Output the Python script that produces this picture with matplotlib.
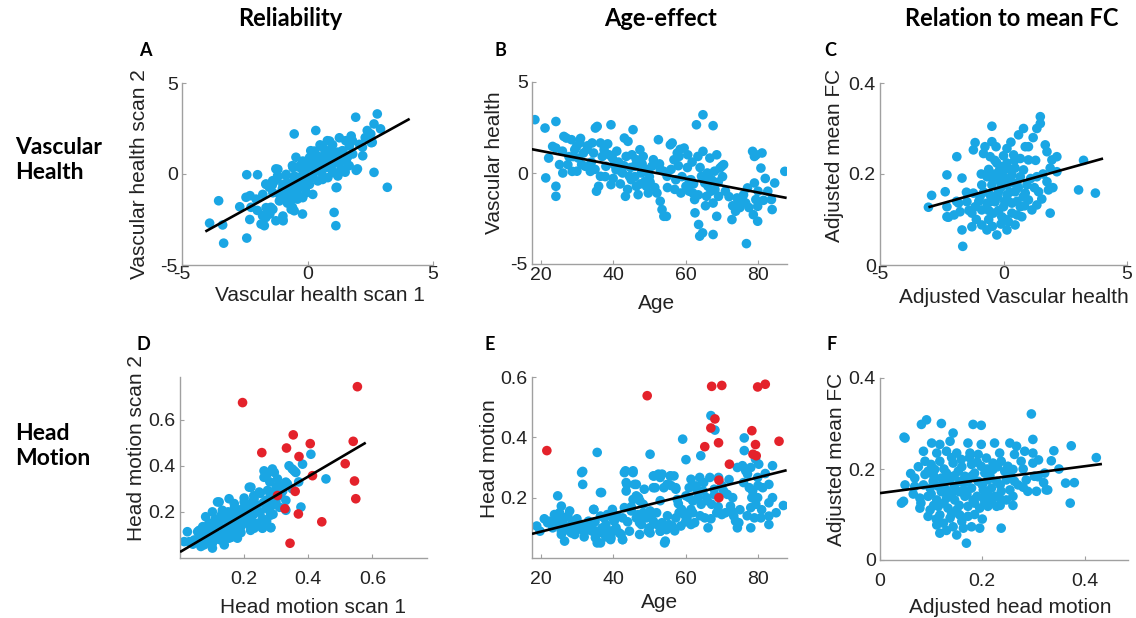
import numpy as np
import matplotlib
matplotlib.use("Agg")
import matplotlib.pyplot as plt

plt.rcParams["font.family"] = ["Liberation Sans", "DejaVu Sans"]

BLUE = "#1aa6e4"
RED = "#e4222b"

# ---- A: vascular health, scan 1 vs scan 2
a_pts = np.array([
    (-3.9, -2.7), (-3.54, -1.47), (-3.38, -2.8), (-3.34, -3.8), (-2.42, -3.52), (-2.42, -0.04),
    (-1.99, -0.04), (-2.45, -1.28), (-2.29, -1.19), (-2.25, -1.83), (-2.05, -1.38), (-1.85, -2.75),
    (-1.72, -2.84), (-1.79, -2.29), (-1.66, -2.39), (-1.46, -1.83), (-0.99, -2.48), (-0.97, -2.57),
    (-1.26, -2.57), (-1.66, -0.55), (-1.52, -0.73), (-1.39, -0.37), (-1.26, 0.28), (-1.19, -0.09),
    (-0.86, -0.09), (-0.79, -0.55), (-1.13, -1.1), (-0.66, -1.28), (-0.6, -1.83), (-0.53, -2.02),
    (-0.4, -1.38), (-0.2, -2.2), (-0.53, 2.2), (-0.6, 0.46), (-0.46, 0.92), (-0.33, 0.37),
    (-0.2, -0.37), (-0.07, -0.73), (0.0, 0.73), (0.13, 1.28), (0.2, 1.0), (0.33, 2.39),
    (0.33, 0.55), (0.46, 0.83), (0.6, 0.37), (0.73, 1.28), (0.79, 1.83), (0.86, 0.73),
    (0.99, 0.18), (1.06, -2.11), (1.13, -2.84), (1.17, -0.73), (1.26, 0.09), (1.39, 1.28),
    (1.52, 1.83), (1.59, 0.92), (1.66, 0.46), (1.79, 1.83), (1.92, 3.12), (1.99, 0.28),
    (2.19, 1.47), (2.38, 2.39), (2.52, 2.2), (2.58, 1.74), (2.65, 0.09), (2.78, 3.3),
    (2.91, 2.48), (3.18, -0.73), (2.65, 2.75),
    (0.88, 1.81), (1.27, 1.99), (1.74, 2.09), (2.47, 2.18), (0.28, 1.26), (0.61, 1.45),
    (0.94, 1.36), (1.41, 1.26), (1.67, 1.54), (2.07, 1.63), (2.54, 1.72), (-0.19, 0.71),
    (0.08, 0.9), (0.41, 0.99), (0.74, 0.81), (1.14, 0.9), (1.54, 0.71), (-0.58, 0.35),
    (-0.32, 0.44), (0.01, 0.35), (0.35, 0.53), (0.74, 0.35), (1.01, 0.07), (1.34, 0.26),
    (1.61, 0.44), (1.94, 0.2), (-1.18, 0.26), (-0.85, -0.02), (-0.52, -0.11), (-0.19, -0.02),
    (0.21, -0.11), (0.55, 0.07), (0.81, -0.2), (1.21, -0.11), (-1.65, -0.57), (-1.31, -0.38),
    (-0.98, -0.57), (-0.65, -0.48), (-0.32, -0.66), (0.08, -0.57), (0.41, -0.38), (1.14, -0.75),
    (-1.78, -1.12), (-1.38, -1.03), (-1.05, -1.21), (-0.72, -0.93), (-0.39, -0.84), (-0.05, -1.03),
    (0.21, -1.12), (-1.12, -1.48), (-0.59, -1.39), (-0.19, -1.3), (-1.65, -1.85), (-1.38, -1.94),
    (-0.65, -1.94), (-0.98, -2.31),
    (-1.0, -0.8), (-0.8, -1.0), (-0.5, -0.6), (-0.3, -0.2), (-0.1, 0.2), (0.1, 0.5),
    (0.3, 0.2), (0.5, 0.6), (0.7, 1.1), (0.9, 1.0), (1.1, 0.6), (1.3, 0.7),
    (0.2, 1.1), (-0.1, 0.5), (0.5, 1.6), (1.0, 1.6), (1.2, 1.2), (0.6, -0.3),
    (0.9, 0.4), (-1.4, -0.6), (-1.2, -0.2), (-0.9, -1.3), (-0.4, -1.1), (-0.1, -0.4),
    (0.35, 0.2), (1.8, 1.1), (2.2, 1.0), (2.3, 2.0), (1.5, 0.1), (0.05, -0.25),
    (-2.3, -2.5), (-2.0, -2.0), (-2.7, -1.8), (-1.5, -2.2), (-0.8, -1.6),
])
a_fit = ([-4.07, 4.07], [-3.16, 3.03])

# ---- B: vascular health vs age
b_pts = np.array([
    (18.4, 2.93), (21.2, 2.47), (21.4, -0.27), (22.2, 0.82), (24.2, 2.83), (24.2, -0.73),
    (24.2, -1.28), (23.3, 1.46), (24.2, 1.37), (25.2, 0.46), (26.1, 0.0), (26.4, 2.01),
    (27.1, 1.92), (27.5, 0.46), (28.5, 1.83), (28.7, 0.09), (29.4, 1.28), (29.9, 1.46),
    (30.4, 0.82), (30.8, 1.65), (31.3, 0.46), (31.8, 1.1), (32.3, 0.37), (33.2, 0.37),
    (33.7, 0.09), (34.2, 1.65), (34.6, 1.1), (35.1, 2.47), (35.6, 2.56), (35.4, -1.0),
    (36.0, -0.73), (36.5, 1.65), (36.5, -0.18), (37.0, 0.91), (37.5, 1.28), (38.0, 0.37),
    (38.9, 1.0), (39.4, 2.65), (39.4, -0.64), (39.8, 0.82), (40.3, 0.46), (40.8, 0.18),
    (42.2, 0.09), (42.6, 0.0), (43.1, 1.92), (43.4, -1.28), (43.6, 0.91), (44.1, 1.74),
    (44.5, -0.18), (45.0, -0.37), (45.5, 2.38), (45.9, 0.37), (46.4, 0.73), (46.4, -0.73),
    (46.9, -1.19), (47.4, 1.28), (47.8, 0.0), (48.3, 0.91), (48.8, -0.46), (49.2, -0.73),
    (49.7, -1.1), (50.7, 0.37), (51.1, 0.73), (52.1, -1.1), (52.5, 1.83), (53.0, -1.55),
    (53.5, -2.01), (54.0, -2.38), (54.7, -2.38), (54.0, 0.09), (54.9, -0.18), (55.8, 1.55),
    (56.3, 1.65), (56.8, 0.73), (57.3, -0.37), (57.7, 1.1), (58.2, 0.91), (58.7, -1.1),
    (59.6, 1.37), (60.1, -0.73), (60.6, 1.0), (61.0, -1.0), (61.5, -0.37), (62.0, -1.1),
    (62.5, -1.46), (62.6, -2.19), (63.0, 2.65), (63.4, 0.91), (63.6, -2.83), (63.9, -3.47),
    (64.4, -0.18), (64.7, -3.29), (64.8, 3.2), (64.8, 1.19), (65.3, -0.55), (65.8, -1.28),
    (66.2, -0.73), (66.7, 0.82), (67.2, -0.37), (67.6, -3.38), (67.6, 2.6), (67.6, -1.65),
    (68.1, -0.91), (68.6, 1.0), (68.6, -2.38), (69.1, -1.28), (69.5, 0.27), (70.0, 0.37),
    (70.5, 0.46), (72.8, -2.56), (73.8, -2.1), (74.2, -1.37), (74.7, -1.65), (75.7, -1.46),
    (76.6, -1.65), (76.8, -3.88), (77.1, -0.82), (78.5, 1.19), (78.7, -2.29), (79.0, 0.91),
    (79.0, -0.55), (79.4, -1.46), (79.9, -2.65), (79.9, -1.83), (80.8, 0.27), (81.1, 1.1),
    (82.7, -1.0), (83.7, -1.46), (83.9, -2.01), (84.6, -0.55), (87.4, 0.09),
    (29.0, 0.9), (32.8, 1.3), (41.5, 0.6), (44.8, 0.3), (47.0, 0.5), (50.0, -0.2),
    (53.0, 0.2), (58.0, 0.4), (61.0, -0.4), (66.0, -0.1), (71.0, -1.0), (75.0, -1.9),
    (26.0, 1.2), (27.8, 0.9), (30.0, 0.1), (31.0, 1.9), (33.0, 1.5), (34.0, 0.6),
    (35.0, 0.2), (37.8, -0.2), (38.5, 1.6), (40.0, -0.3), (41.0, 1.2), (42.0, -0.6),
    (43.0, 0.4), (44.0, -0.9), (45.2, 1.0), (46.0, -0.2), (47.5, -0.6), (48.0, 0.5),
    (49.0, 0.2), (50.2, -0.5), (51.5, -0.8), (52.8, 0.5), (55.0, -0.8), (56.0, 0.2),
    (57.0, -0.9), (58.5, 1.3), (59.0, -0.2), (60.5, 0.3), (61.8, 0.6), (62.2, -0.6),
    (63.5, -1.2), (64.0, 0.3), (65.5, -1.8), (66.0, 0.0), (67.0, -1.0), (68.0, 0.1),
    (69.0, -0.5), (70.2, -0.2), (72.0, -1.3), (73.0, -1.8), (76.0, -1.2), (77.5, -1.9),
    (79.5, 1.0), (80.0, -1.0), (81.5, -1.5), (82.0, -0.3),
])
b_fit = ([17.2, 87.9], [1.32, -1.37])

# ---- C: adjusted mean FC vs adjusted vascular health
c_pts = np.array([
    (1.49, 0.326), (1.49, 0.311), (-0.47, 0.305), (0.81, 0.3), (0.61, 0.286), (1.35, 0.3),
    (-1.15, 0.269), (-0.47, 0.271), (0.88, 0.26), (1.01, 0.26), (1.69, 0.264), (-1.22, 0.253),
    (-0.81, 0.245), (-0.54, 0.238), (0.14, 0.256), (0.41, 0.242), (0.68, 0.234), (1.01, 0.231),
    (1.76, 0.249), (1.96, 0.231), (2.16, 0.238), (-1.89, 0.238), (-0.27, 0.224), (-0.07, 0.216),
    (0.14, 0.224), (0.47, 0.213), (0.81, 0.209), (1.89, 0.213), (2.16, 0.205), (-2.29, 0.198),
    (-1.68, 0.191), (-0.67, 0.194), (-0.2, 0.198), (0.0, 0.194), (0.34, 0.198), (0.68, 0.194),
    (1.35, 0.194), (1.76, 0.183), (-0.88, 0.176), (-0.47, 0.176), (-0.13, 0.183), (0.14, 0.176),
    (0.54, 0.18), (0.95, 0.176), (-2.36, 0.161), (-1.22, 0.158), (-0.95, 0.15), (-0.54, 0.154),
    (-0.2, 0.161), (0.14, 0.154), (0.47, 0.161), (0.88, 0.158), (1.42, 0.161), (1.82, 0.165),
    (3.04, 0.165), (-2.29, 0.128), (-1.82, 0.136), (-1.48, 0.139), (-1.15, 0.128), (-0.67, 0.136),
    (-0.34, 0.139), (0.0, 0.128), (0.34, 0.136), (0.68, 0.128), (1.01, 0.143), (1.35, 0.132),
    (-2.29, 0.106), (-1.76, 0.117), (-1.28, 0.114), (-0.88, 0.121), (-0.41, 0.114), (-0.07, 0.106),
    (0.34, 0.114), (0.74, 0.106), (1.15, 0.121), (1.89, 0.114), (-1.68, 0.077), (-1.28, 0.084),
    (-0.88, 0.088), (-0.67, 0.077), (-0.27, 0.066), (0.14, 0.077), (0.47, 0.088), (0.2, 0.095),
    (-2.91, 0.153), (-3.04, 0.127), (-2.23, 0.105), (-1.65, 0.041), (3.24, 0.23), (3.72, 0.158),
    (-0.2, 0.201), (-0.1, 0.17), (0.3, 0.21), (-0.35, 0.2), (0.2, 0.14), (-0.6, 0.12),
    (-0.9, 0.2), (-0.6, 0.21), (-0.35, 0.23), (-0.15, 0.21), (0.05, 0.21), (0.25, 0.19),
    (0.45, 0.23), (0.6, 0.17), (0.8, 0.15), (1.1, 0.19), (1.25, 0.17), (-1.0, 0.14),
    (-0.8, 0.16), (-0.5, 0.14), (-0.25, 0.15), (0.05, 0.14), (0.25, 0.16), (0.55, 0.14),
    (0.85, 0.13), (-1.4, 0.12), (-1.1, 0.1), (-0.6, 0.1), (-0.2, 0.12), (0.1, 0.1),
    (0.55, 0.11), (-0.1, 0.09), (-0.45, 0.085), (-1.5, 0.16), (-1.9, 0.14), (-2.0, 0.11),
    (1.3, 0.23), (1.6, 0.2), (1.55, 0.145), (2.0, 0.17), (-0.3, 0.26), (0.3, 0.27),
    (0.0, 0.24), (-0.75, 0.26), (1.2, 0.28), (-0.05, 0.185), (0.4, 0.18), (-0.45, 0.19),
])
c_fit = ([-3.04, 4.03], [0.127, 0.234])

# ---- D: head motion, scan 1 vs scan 2 (red = flagged)
d_blue = np.array([
    (0.262, 0.378), (0.294, 0.371), (0.356, 0.378), (0.262, 0.35), (0.304, 0.343), (0.335, 0.321),
    (0.221, 0.307), (0.273, 0.293), (0.309, 0.307), (0.153, 0.257), (0.122, 0.243), (0.169, 0.236),
    (0.2, 0.243), (0.231, 0.257), (0.268, 0.25), (0.299, 0.243), (0.08, 0.179), (0.101, 0.2),
    (0.132, 0.207), (0.163, 0.2), (0.195, 0.214), (0.221, 0.207), (0.247, 0.2), (0.278, 0.207),
    (0.055, 0.114), (0.071, 0.136), (0.096, 0.15), (0.122, 0.157), (0.143, 0.171), (0.169, 0.164),
    (0.2, 0.171), (0.226, 0.157), (0.257, 0.171), (0.283, 0.186), (0.059, 0.078), (0.085, 0.093),
    (0.111, 0.107), (0.138, 0.121), (0.163, 0.129), (0.19, 0.136), (0.216, 0.143), (0.231, 0.129),
    (0.257, 0.131), (0.283, 0.131), (0.075, 0.057), (0.101, 0.064), (0.127, 0.078), (0.153, 0.086),
    (0.179, 0.086), (0.101, 0.043), (0.065, 0.05), (0.044, 0.078), (0.138, 0.057), (0.33, 0.207),
    (0.377, 0.221), (0.455, 0.343), (0.408, 0.45), (0.382, 0.407), (0.34, 0.4), (0.35, 0.386),
    (0.361, 0.371), (0.288, 0.386), (0.283, 0.133), (0.257, 0.129), (0.216, 0.307), (0.117, 0.243),
    (0.023, 0.114), (0.029, 0.071), (0.013, 0.071), (0.321, 0.314), (0.33, 0.329), (0.314, 0.271),
    (0.278, 0.257), (0.288, 0.286), (0.247, 0.286), (0.226, 0.243), (0.06, 0.1), (0.09, 0.12),
    (0.15, 0.15), (0.18, 0.19), (0.21, 0.18), (0.12, 0.09), (0.04, 0.06), (0.17, 0.11),
    (0.07, 0.09), (0.09, 0.07), (0.11, 0.08), (0.13, 0.1), (0.15, 0.11), (0.17, 0.13),
    (0.19, 0.15), (0.21, 0.16), (0.23, 0.19), (0.25, 0.2), (0.27, 0.22), (0.29, 0.23),
    (0.12, 0.14), (0.14, 0.13), (0.16, 0.17), (0.18, 0.18), (0.2, 0.2), (0.22, 0.22),
    (0.24, 0.23), (0.26, 0.24), (0.08, 0.11), (0.1, 0.13), (0.06, 0.12), (0.16, 0.09),
    (0.19, 0.11), (0.22, 0.12), (0.24, 0.15), (0.27, 0.16), (0.29, 0.19), (0.31, 0.22),
    (0.33, 0.25), (0.35, 0.3), (0.37, 0.33), (0.32, 0.29), (0.3, 0.31), (0.23, 0.27),
    (0.17, 0.22), (0.13, 0.19), (0.11, 0.17), (0.15, 0.2), (0.09, 0.15), (0.2, 0.26),
    (0.25, 0.28), (0.28, 0.33), (0.27, 0.36),
])
d_red = np.array([
    (0.195, 0.674), (0.255, 0.457), (0.332, 0.477), (0.353, 0.534), (0.371, 0.44), (0.359, 0.289),
    (0.327, 0.214), (0.369, 0.191), (0.343, 0.064), (0.406, 0.496), (0.413, 0.357), (0.442, 0.157),
    (0.515, 0.409), (0.54, 0.506), (0.553, 0.743), (0.544, 0.334), (0.548, 0.257), (0.304, 0.271),
])
d_fit = ([0.0, 0.579], [0.026, 0.5])

# ---- E: head motion vs age (red = flagged)
e_blue = np.array([
    (18.9, 0.106), (19.8, 0.089), (24.7, 0.206), (21.9, 0.117), (23.3, 0.1), (24.2, 0.133),
    (25.2, 0.15), (25.7, 0.078), (26.1, 0.117), (26.6, 0.056), (27.5, 0.139), (28.0, 0.089),
    (28.5, 0.111), (29.4, 0.078), (30.4, 0.1), (31.3, 0.111), (31.6, 0.287), (31.6, 0.244),
    (32.3, 0.089), (33.2, 0.122), (34.2, 0.1), (34.6, 0.161), (35.1, 0.067), (35.6, 0.35),
    (36.0, 0.089), (36.5, 0.05), (36.8, 0.217), (37.5, 0.133), (38.0, 0.111), (38.9, 0.089),
    (39.4, 0.067), (39.8, 0.133), (40.8, 0.1), (41.7, 0.083), (42.6, 0.061), (43.1, 0.167),
    (43.4, 0.289), (43.8, 0.244), (44.5, 0.089), (45.5, 0.289), (45.9, 0.244), (46.4, 0.206),
    (46.9, 0.144), (47.4, 0.189), (47.8, 0.111), (48.3, 0.178), (48.6, 0.228), (49.2, 0.133),
    (49.7, 0.089), (50.2, 0.344), (50.7, 0.15), (51.1, 0.233), (51.3, 0.272), (52.1, 0.111),
    (52.5, 0.278), (53.0, 0.089), (53.5, 0.278), (54.0, 0.233), (54.2, 0.05), (54.7, 0.094),
    (54.9, 0.244), (55.4, 0.111), (55.8, 0.272), (56.3, 0.106), (56.8, 0.272), (57.3, 0.233),
    (57.7, 0.194), (58.2, 0.15), (58.7, 0.106), (59.2, 0.394), (58.9, 0.161), (59.6, 0.15),
    (60.1, 0.326), (60.4, 0.133), (61.0, 0.233), (61.5, 0.111), (62.0, 0.189), (62.5, 0.117),
    (62.9, 0.239), (63.4, 0.2), (63.9, 0.267), (64.2, 0.339), (64.3, 0.178), (64.8, 0.222),
    (65.3, 0.133), (65.8, 0.2), (66.2, 0.1), (66.7, 0.267), (67.0, 0.472), (68.1, 0.424),
    (67.2, 0.178), (67.9, 0.228), (68.6, 0.15), (69.1, 0.267), (70.0, 0.144), (70.5, 0.222),
    (71.5, 0.211), (72.4, 0.172), (72.8, 0.155), (73.3, 0.139), (73.8, 0.122), (74.3, 0.1),
    (74.7, 0.117), (74.3, 0.3), (75.7, 0.306), (76.2, 0.398), (76.2, 0.356), (76.6, 0.289),
    (77.1, 0.278), (77.6, 0.233), (78.0, 0.1), (78.0, 0.167), (78.3, 0.2), (78.5, 0.222),
    (79.0, 0.133), (79.3, 0.328), (79.4, 0.178), (79.9, 0.267), (79.9, 0.2), (80.2, 0.311),
    (80.8, 0.133), (81.3, 0.233), (83.0, 0.183), (83.0, 0.139), (83.0, 0.111), (83.0, 0.244),
    (84.0, 0.306), (87.0, 0.174),
    (31.3, 0.283), (36.5, 0.217), (43.1, 0.283), (45.5, 0.283), (43.6, 0.25), (46.4, 0.244),
    (43.6, 0.222), (51.1, 0.272), (53.0, 0.267), (55.8, 0.272), (51.6, 0.233), (57.3, 0.228),
    (61.5, 0.261), (60.1, 0.206), (45.5, 0.194), (25.7, 0.172), (28.0, 0.156), (22.4, 0.122),
    (23.8, 0.144), (26.6, 0.133), (29.0, 0.122), (32.3, 0.111), (34.7, 0.161), (36.5, 0.139),
    (38.4, 0.144), (39.8, 0.161), (40.3, 0.122), (42.6, 0.133), (45.0, 0.156), (46.4, 0.133),
    (48.3, 0.15), (50.2, 0.156), (47.3, 0.117), (51.1, 0.122), (53.5, 0.117), (55.8, 0.106),
    (57.3, 0.133), (59.6, 0.144), (61.5, 0.161), (25.7, 0.089), (28.5, 0.083), (31.3, 0.094),
    (34.2, 0.089), (37.0, 0.083), (39.3, 0.089), (42.2, 0.078), (35.6, 0.05), (39.3, 0.061),
    (42.6, 0.061), (47.3, 0.078), (50.2, 0.083), (53.0, 0.089), (54.4, 0.056), (56.3, 0.1),
    (21.0, 0.13), (23.0, 0.12), (25.0, 0.11), (27.0, 0.1), (29.0, 0.09), (30.0, 0.13),
    (32.0, 0.07), (33.0, 0.1), (35.0, 0.12), (37.0, 0.1), (38.0, 0.07), (40.0, 0.09),
    (41.0, 0.14), (44.0, 0.12), (45.0, 0.17), (47.0, 0.2), (48.0, 0.13), (50.0, 0.1),
    (52.0, 0.15), (53.0, 0.19), (55.0, 0.14), (56.0, 0.24), (57.0, 0.09), (58.0, 0.18),
    (60.0, 0.12), (61.0, 0.2), (62.0, 0.15), (63.0, 0.23), (64.0, 0.14), (65.0, 0.25),
    (66.0, 0.19), (67.0, 0.13), (68.0, 0.21), (69.0, 0.17), (70.0, 0.24), (71.0, 0.15),
    (72.0, 0.26), (73.0, 0.2), (75.0, 0.16), (76.0, 0.25), (77.0, 0.14), (78.0, 0.3),
    (80.0, 0.24), (81.0, 0.16), (82.0, 0.28), (84.0, 0.2), (85.0, 0.15),
])
e_red = np.array([
    (21.7, 0.356), (49.4, 0.538), (67.2, 0.569), (70.0, 0.572), (79.9, 0.567), (82.0, 0.576),
    (68.1, 0.461), (66.98, 0.431), (69.1, 0.382), (65.3, 0.369), (72.1, 0.311), (78.3, 0.422),
    (79.3, 0.376), (78.6, 0.344), (79.5, 0.339), (85.8, 0.387), (69.2, 0.2), (69.2, 0.258),
])
e_fit = ([17.6, 87.9], [0.08, 0.291])

# ---- F: adjusted mean FC vs adjusted head motion
f_pts = np.array([
    (0.081, 0.298), (0.12, 0.3), (0.182, 0.298), (0.198, 0.296), (0.049, 0.268), (0.143, 0.279),
    (0.101, 0.257), (0.117, 0.254), (0.137, 0.261), (0.172, 0.257), (0.198, 0.254), (0.224, 0.257),
    (0.254, 0.257), (0.267, 0.25), (0.299, 0.265), (0.085, 0.239), (0.111, 0.235), (0.13, 0.239),
    (0.15, 0.235), (0.176, 0.235), (0.192, 0.232), (0.208, 0.224), (0.234, 0.235), (0.263, 0.232),
    (0.283, 0.239), (0.299, 0.235), (0.088, 0.217), (0.117, 0.217), (0.143, 0.213), (0.159, 0.221),
    (0.179, 0.21), (0.198, 0.206), (0.221, 0.213), (0.237, 0.217), (0.25, 0.206), (0.276, 0.217),
    (0.299, 0.213), (0.094, 0.195), (0.107, 0.199), (0.13, 0.191), (0.153, 0.195), (0.166, 0.184),
    (0.185, 0.191), (0.205, 0.191), (0.221, 0.199), (0.244, 0.195), (0.26, 0.199), (0.068, 0.18),
    (0.088, 0.188), (0.104, 0.173), (0.12, 0.18), (0.137, 0.176), (0.156, 0.173), (0.172, 0.176),
    (0.192, 0.173), (0.211, 0.176), (0.228, 0.173), (0.247, 0.176), (0.263, 0.173), (0.286, 0.176),
    (0.302, 0.184), (0.049, 0.165), (0.068, 0.162), (0.098, 0.158), (0.114, 0.162), (0.13, 0.154),
    (0.146, 0.162), (0.163, 0.154), (0.179, 0.158), (0.202, 0.154), (0.218, 0.158), (0.237, 0.151),
    (0.254, 0.154), (0.289, 0.151), (0.306, 0.151), (0.325, 0.154), (0.046, 0.129), (0.078, 0.136),
    (0.094, 0.14), (0.111, 0.132), (0.13, 0.136), (0.146, 0.132), (0.166, 0.14), (0.182, 0.132),
    (0.202, 0.136), (0.218, 0.129), (0.234, 0.136), (0.247, 0.132), (0.078, 0.114), (0.098, 0.11),
    (0.114, 0.118), (0.133, 0.114), (0.15, 0.11), (0.172, 0.118), (0.195, 0.114), (0.211, 0.118),
    (0.228, 0.118), (0.094, 0.096), (0.117, 0.099), (0.137, 0.092), (0.156, 0.099), (0.172, 0.096),
    (0.124, 0.081), (0.143, 0.073), (0.163, 0.07), (0.179, 0.073), (0.195, 0.07), (0.237, 0.07),
    (0.111, 0.077), (0.117, 0.059), (0.169, 0.037),
    (0.047, 0.27), (0.042, 0.125), (0.091, 0.308), (0.296, 0.321), (0.335, 0.218), (0.328, 0.154),
    (0.363, 0.169), (0.372, 0.125), (0.374, 0.251), (0.423, 0.225), (0.322, 0.191), (0.309, 0.183),
    (0.1, 0.21), (0.125, 0.2), (0.14, 0.225), (0.16, 0.205), (0.175, 0.225), (0.19, 0.215),
    (0.21, 0.2), (0.23, 0.205), (0.105, 0.185), (0.125, 0.17), (0.145, 0.185), (0.165, 0.17),
    (0.18, 0.185), (0.2, 0.165), (0.215, 0.185), (0.235, 0.165), (0.255, 0.185), (0.27, 0.165),
    (0.1, 0.145), (0.12, 0.15), (0.14, 0.145), (0.155, 0.15), (0.17, 0.145), (0.19, 0.14),
    (0.21, 0.145), (0.225, 0.14), (0.26, 0.14), (0.28, 0.16), (0.085, 0.165), (0.065, 0.145),
    (0.08, 0.125), (0.105, 0.12), (0.125, 0.125), (0.155, 0.12), (0.185, 0.125), (0.205, 0.125),
    (0.235, 0.12), (0.26, 0.12), (0.14, 0.1), (0.16, 0.085), (0.185, 0.1), (0.2, 0.09),
    (0.11, 0.09), (0.13, 0.065), (0.15, 0.055), (0.28, 0.2), (0.31, 0.22), (0.32, 0.17),
    (0.35, 0.2), (0.38, 0.17), (0.34, 0.24), (0.06, 0.19), (0.075, 0.205),
])
f_fit = ([0.0, 0.434], [0.147, 0.211])

W, H = 1136, 618
fig = plt.figure(figsize=(W / 100, H / 100), dpi=100)


def box(l, t, r, b):
    return [l / W, 1 - b / H, (r - l) / W, (b - t) / H]


def style(ax, xlim, ylim, xticks, yticks, xlabel, ylabel, xl_pos, yl_pos, xpad):
    ax.set_xlim(*xlim)
    ax.set_ylim(*ylim)
    ax.set_xticks(xticks)
    ax.set_yticks(yticks)
    ax.set_xticklabels([f"{t:g}" for t in xticks])
    ax.set_yticklabels([f"{t:g}" for t in yticks])
    for s in ("top", "right"):
        ax.spines[s].set_visible(False)
    for s in ("left", "bottom"):
        ax.spines[s].set_color("#a0a0a0")
        ax.spines[s].set_linewidth(1.0)
    ax.tick_params(direction="in", length=3, width=0.8, color="#a0a0a0",
                   labelsize=14, labelcolor="#222222")
    ax.tick_params(axis="x", pad=xpad)
    ax.tick_params(axis="y", pad=3)
    ax.set_xlabel(xlabel, fontsize=15, color="#222222")
    ax.set_ylabel(ylabel, fontsize=15, color="#222222")
    ax.xaxis.set_label_coords(*xl_pos)
    ax.yaxis.set_label_coords(*yl_pos)


def dots(ax, pts, color):
    ax.scatter(pts[:, 0], pts[:, 1], s=48, color=color, edgecolors="none", zorder=2)


def fit(ax, line):
    ax.plot(line[0], line[1], color="black", lw=1.9, zorder=3, solid_capstyle="butt")


axA = fig.add_axes(box(182, 83, 433, 265))
dots(axA, a_pts, BLUE)
fit(axA, a_fit)
style(axA, (-5, 5), (-5, 5), [-5, 0, 5], [-5, 0, 5],
      "Vascular health scan 1", "Vascular health scan 2", (0.55, -0.115), (-0.131, 0.5), 1)

axB = fig.add_axes(box(532, 82, 787, 264))
dots(axB, b_pts, BLUE)
fit(axB, b_fit)
style(axB, (17.6, 88), (-5, 5), [20, 40, 60, 80], [-5, 0, 5],
      "Age", "Vascular health", (0.49, -0.165), (-0.11, 0.555), 2)

axC = fig.add_axes(box(880, 83, 1127, 265))
dots(axC, c_pts, BLUE)
fit(axC, c_fit)
style(axC, (-5, 5), (0, 0.4), [-5, 0, 5], [0, 0.2, 0.4],
      "Adjusted Vascular health", "Adjusted mean FC", (0.54, -0.126), (-0.146, 0.6), 1)

axD = fig.add_axes(box(180, 377, 427, 558))
dots(axD, d_blue, BLUE)
dots(axD, d_red, RED)
fit(axD, d_fit)
style(axD, (0, 0.77), (0, 0.785), [0.2, 0.4, 0.6], [0.2, 0.4, 0.6],
      "Head motion scan 1", "Head motion scan 2", (0.54, -0.22), (-0.138, 0.61), 9)

axE = fig.add_axes(box(532, 377, 787, 558))
dots(axE, e_blue, BLUE)
dots(axE, e_red, RED)
fit(axE, e_fit)
style(axE, (17.6, 88), (0, 0.6), [20, 40, 60, 80], [0.2, 0.4, 0.6],
      "Age", "Head motion", (0.5, -0.193), (-0.129, 0.547), 9)

axF = fig.add_axes(box(880, 378, 1128, 560))
dots(axF, f_pts, BLUE)
fit(axF, f_fit)
style(axF, (0, 0.485), (0, 0.4), [0, 0.2, 0.4], [0, 0.2, 0.4],
      "Adjusted head motion", "Adjusted mean FC", (0.525, -0.209), (-0.137, 0.55), 9)

# column titles, row titles, panel letters
bold = ["Lato", "DejaVu Sans"]
for x, txt in [(290, "Reliability"), (660, "Age-effect"), (1012, "Relation to mean FC")]:
    fig.text(x / W, 1 - 18 / H, txt, ha="center", va="center", fontsize=17,
             fontweight="bold", family=bold)
for y, txt in [(160, "Vascular\nHealth"), (446, "Head\nMotion")]:
    fig.text(15 / W, 1 - y / H, txt, ha="left", va="center", fontsize=16.5,
             fontweight="bold", family=bold, linespacing=1.2)
for x, y, txt in [(145, 50, "A"), (500, 50, "B"), (830, 50, "C"),
                  (143, 345, "D"), (490, 345, "E"), (832, 345, "F")]:
    fig.text(x / W, 1 - y / H, txt, ha="center", va="center", fontsize=13,
             fontweight="bold", family=bold)

fig.savefig("out.png", dpi=100)
